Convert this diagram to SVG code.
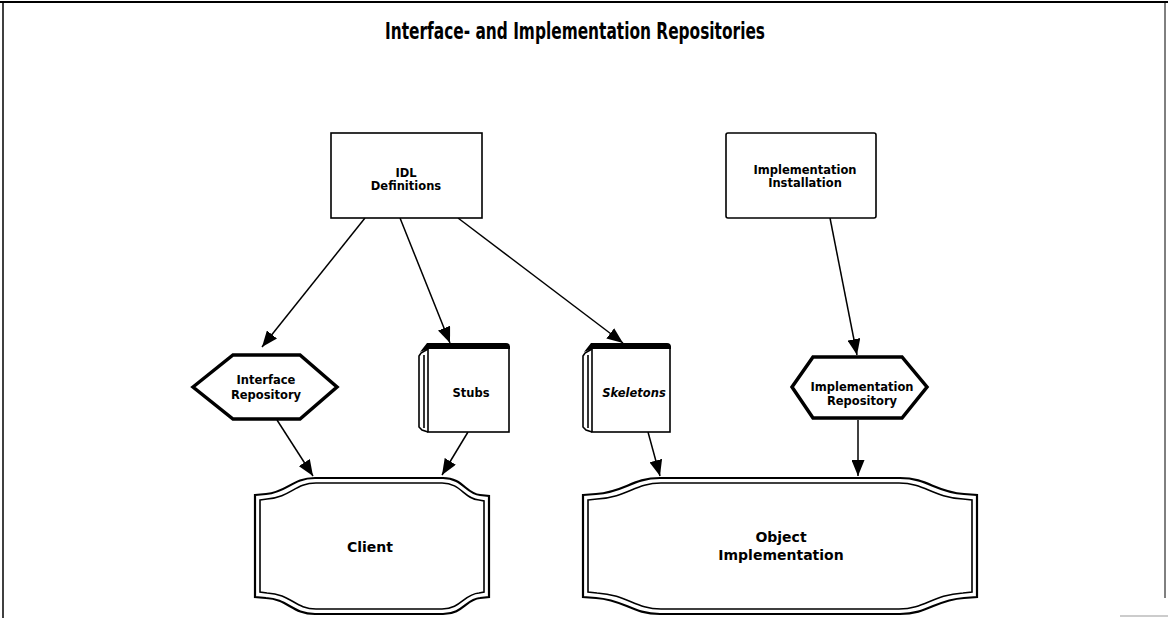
<svg xmlns="http://www.w3.org/2000/svg" width="1168" height="618" viewBox="0 0 1168 618">
  <style>
    .frame { fill: none; stroke: #000; }
    .box { fill: #fff; stroke: #000; stroke-width: 1.6; }
    .hex { fill: #fff; stroke: #000; stroke-width: 3.5; stroke-linejoin: miter; }
    .outer { fill: #fff; stroke: #000; stroke-width: 2.2; }
    .inner { fill: none; stroke: #000; stroke-width: 1.6; }
    .band { fill: #000; }
    .spine { fill: none; stroke: #000; stroke-width: 1.6; }
    .title { font-family: "DejaVu Sans", sans-serif; font-weight: bold; font-size: 23px; fill: #000; }
    .lbl { font-family: "DejaVu Sans", sans-serif; font-weight: bold; font-size: 11.5px; fill: #000; text-anchor: middle; }
    .big { font-size: 14px; }
    .it { font-style: italic; }
    .conn line { stroke: #000; stroke-width: 1.5; marker-end: url(#arrow); }
  </style>
  <defs>
    <marker id="arrow" markerUnits="userSpaceOnUse" markerWidth="16" markerHeight="13" refX="16" refY="6.5" orient="auto">
      <path d="M0,0 L16,6.5 L0,13 Z" fill="#000"/>
    </marker>
  </defs>

  <rect width="1168" height="618" fill="#fff"/>

  <!-- page frame -->
  <g id="frame">
    <line class="frame" x1="0" y1="2" x2="1168" y2="2" stroke-width="2.2"/>
    <line class="frame" x1="3" y1="2" x2="3" y2="618" stroke-width="1.5"/>
    <line class="frame" x1="1165" y1="2" x2="1165" y2="598" stroke-width="1"/>
    <line x1="1120" y1="616" x2="1168" y2="616" stroke="#bbb" stroke-width="1.5"/>
  </g>

  <text class="title" x="575" y="39" text-anchor="middle" textLength="380" lengthAdjust="spacingAndGlyphs">Interface- and Implementation Repositories</text>

  <!-- connectors -->
  <g id="connectors" class="conn">
    <line x1="365" y1="218" x2="262" y2="347"/>
    <line x1="400" y1="218" x2="450" y2="343"/>
    <line x1="458" y1="218" x2="623" y2="343"/>
    <line x1="830" y1="218" x2="857" y2="355"/>
    <line x1="277" y1="420" x2="313" y2="476"/>
    <line x1="468" y1="432" x2="442" y2="475"/>
    <line x1="648" y1="432" x2="660" y2="476"/>
    <line x1="858" y1="420" x2="858" y2="476"/>
  </g>

  <g id="idl-definitions">
    <rect class="box" x="331" y="133" width="151" height="85"/>
    <text class="lbl" x="406" y="177">IDL</text>
    <text class="lbl" x="406" y="190">Definitions</text>
  </g>

  <g id="implementation-installation">
    <rect class="box" x="726" y="133" width="150" height="85" rx="2"/>
    <text class="lbl" x="805" y="174">Implementation</text>
    <text class="lbl" x="805" y="187">Installation</text>
  </g>

  <g id="interface-repository">
    <polygon class="hex" points="193,387 233,355 300,355 337,387 300,419 233,419"/>
    <text class="lbl" x="266" y="384">Interface</text>
    <text class="lbl" x="266" y="399">Repository</text>
  </g>

  <g id="implementation-repository">
    <polygon class="hex" points="792,387 813,357 902,357 927,387 902,418 813,418"/>
    <text class="lbl" x="862" y="391">Implementation</text>
    <text class="lbl" x="862" y="405">Repository</text>
  </g>

  <g id="stubs">
    <rect class="box" x="428" y="347" width="81" height="85"/>
    <path class="band" d="M420,352 L427,343 L506,343 Q510,343 510,347 L510,349 L428,349 Z"/>
    <path class="spine" d="M428,349 L421,353 L419,356 L419,427 L422,430 L428,432"/>
    <line class="spine" x1="424" y1="355" x2="424" y2="428"/>
    <text class="lbl" x="471" y="397">Stubs</text>
  </g>

  <g id="skeletons">
    <rect class="box" x="592" y="347" width="78" height="85"/>
    <path class="band" d="M584,352 L591,343 L667,343 Q671,343 671,347 L671,349 L592,349 Z"/>
    <path class="spine" d="M592,349 L585,353 L583,356 L583,427 L586,430 L592,432"/>
    <line class="spine" x1="588" y1="355" x2="588" y2="428"/>
    <text class="lbl it" x="634" y="397">Skeletons</text>
  </g>

  <g id="client">
    <path class="outer" d="M255,495 L266,494 C288,492 292,478 315,478 L443,478 C463,478 466,494 480,495 L489,496 L489,597 L480,598 C466,599 463,614 443,614 L315,614 C292,614 288,599 266,598 L255,597 Z"/>
    <path class="inner" d="M260,500 L267,499 C291,497 295,483 316,483 L442,483 C461,483 464,499 479,500 L484,501 L484,592 L479,593 C464,594 461,609 442,609 L316,609 C295,609 291,594 267,593 L260,592 Z"/>
    <text class="lbl big" x="370" y="552">Client</text>
  </g>

  <g id="object-implementation">
    <path class="outer" d="M583,495 L596,494 C625,492 632,478 660,478 L900,478 C928,478 935,492 964,494 L977,495 L977,597 L964,598 C935,600 928,614 900,614 L660,614 C632,614 625,600 596,598 L583,597 Z"/>
    <path class="inner" d="M588,500 L597,499 C628,497 635,483 661,483 L899,483 C925,483 932,497 963,499 L972,500 L972,592 L963,593 C932,595 925,609 899,609 L661,609 C635,609 628,595 597,593 L588,592 Z"/>
    <text class="lbl big" x="781" y="542">Object</text>
    <text class="lbl big" x="781" y="560">Implementation</text>
  </g>
</svg>
